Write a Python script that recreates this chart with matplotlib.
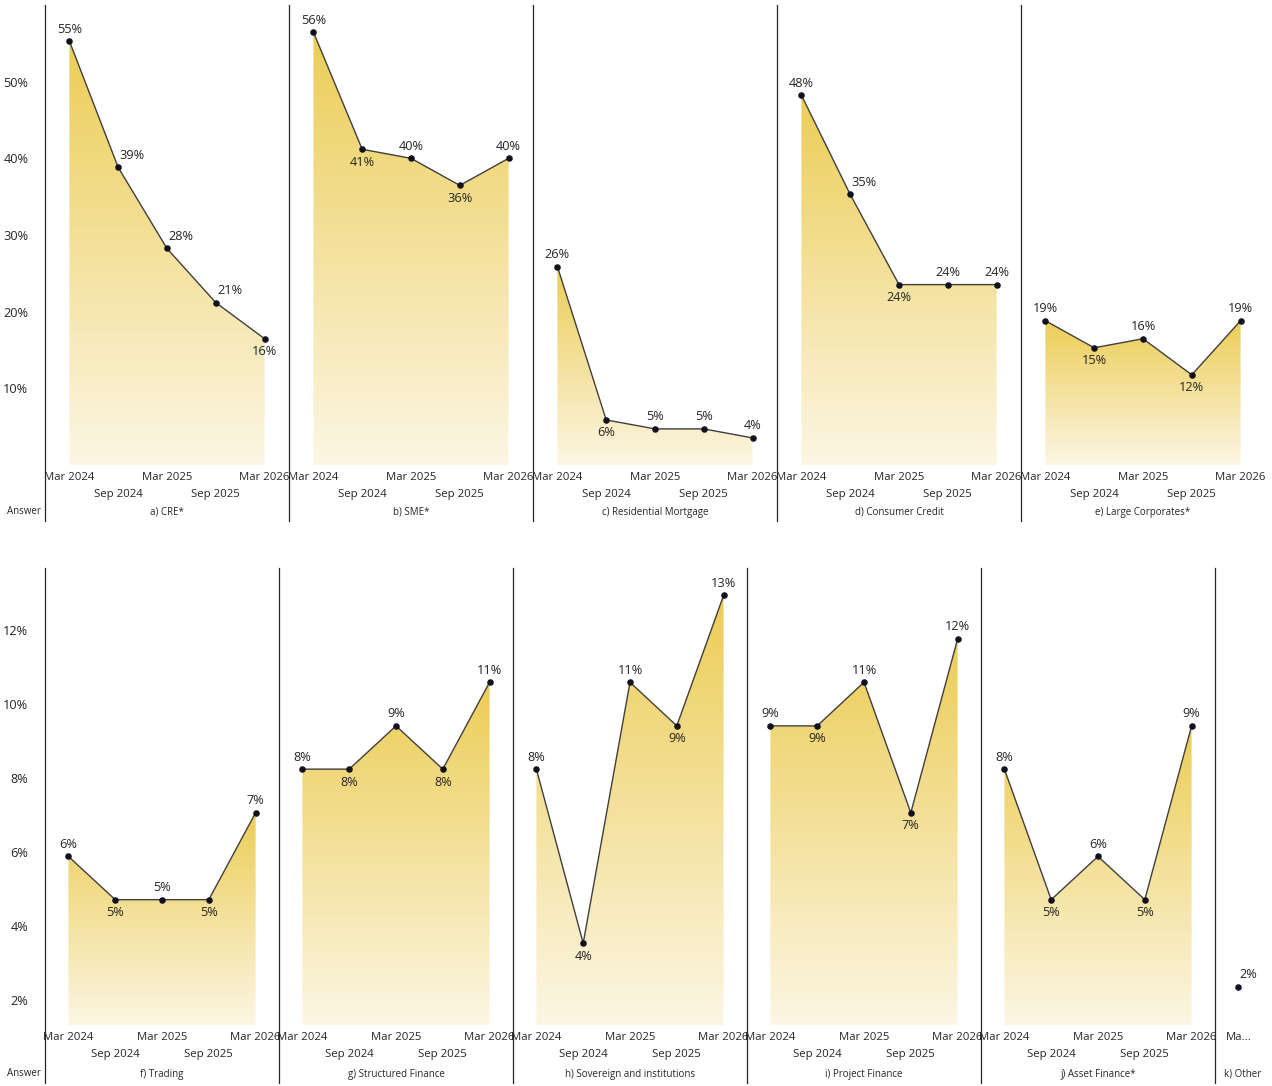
import matplotlib
matplotlib.use("Agg")
import matplotlib.pyplot as plt
import numpy as np
from matplotlib.lines import Line2D
from matplotlib.ticker import FixedLocator

plt.rcParams['font.family'] = ['Open Sans', 'DejaVu Sans']

# Survey periods
periods = ["Mar 2024", "Sep 2024", "Mar 2025", "Sep 2025", "Mar 2026"]

# Share of answers (%) per category, top row
cre = [55.29, 38.82, 28.24, 21.18, 16.47]
sme = [56.47, 41.18, 40.00, 36.47, 40.00]
residential_mortgage = [25.88, 5.88, 4.71, 4.71, 3.53]
consumer_credit = [48.24, 35.29, 23.53, 23.53, 23.53]
large_corporates = [18.82, 15.29, 16.47, 11.76, 18.82]

# Share of answers (%) per category, bottom row
trading = [5.88, 4.71, 4.71, 4.71, 7.06]
structured_finance = [8.24, 8.24, 9.41, 8.24, 10.59]
sovereign = [8.24, 3.53, 10.59, 9.41, 12.94]
project_finance = [9.41, 9.41, 10.59, 7.06, 11.76]
asset_finance = [8.24, 4.71, 5.88, 4.71, 9.41]
other = [2.35]
other_periods = ["Ma..."]

top_titles = ["a) CRE*", "b) SME*", "c) Residential Mortgage",
              "d) Consumer Credit", "e) Large Corporates*"]
bottom_titles = ["f) Trading", "g) Structured Finance",
                 "h) Sovereign and institutions", "i) Project Finance",
                 "j) Asset Finance*", "k) Other"]

top_series = [cre, sme, residential_mortgage, consumer_credit, large_corporates]
bottom_series = [trading, structured_finance, sovereign, project_finance,
                 asset_finance, other]

# Label placement: a = above, b = below, r = above-right
A, B, R = (0, 12), (0, -13), (14, 12)
top_places = [
    [A, R, R, R, B],
    [A, B, A, B, A],
    [A, B, A, A, A],
    [A, R, B, A, A],
    [A, B, A, B, A],
]
bottom_places = [
    [A, B, A, B, A],
    [A, B, A, B, A],
    [A, B, A, B, A],
    [A, B, A, B, A],
    [A, B, A, B, A],
    [(10, 12)],
]

W, H = 1272, 1086
fig = plt.figure(figsize=(W / 100, H / 100), dpi=100)

top_col = np.array([236, 205, 86]) / 255
bot_col = np.array([252, 246, 228]) / 255
grad = np.linspace(0, 1, 256)[:, None, None]
grad_img = bot_col[None, None, :] * (1 - grad) + top_col[None, None, :] * grad

LINE = "#3f3f3f"
DOT = "#10101e"
TXT = "#262626"
FS = 9.2
TICK_FS = 8.2
TITLE_FS = 7.0


def px_axes(x0, y_top, w, y_bot):
    return fig.add_axes([x0 / W, 1 - y_bot / H, w / W, (y_bot - y_top) / H])


def draw_panel(ax, vals, labels, places, ylim, yticks, show_y):
    n = len(vals)
    x = np.arange(n)
    ax.set_xlim(-0.5, n - 0.5)
    ax.set_ylim(*ylim)
    if n > 1:
        poly = ax.fill_between(x, ylim[0], vals, color="none", lw=0)
        im = ax.imshow(grad_img, origin="lower", aspect="auto",
                       extent=(0, n - 1, ylim[0], max(vals)), zorder=1,
                       interpolation="bilinear")
        im.set_clip_path(poly.get_paths()[0], transform=ax.transData)
        ax.plot(x, vals, color=LINE, lw=1.0, zorder=2)
    ax.plot(x, vals, "o", color=DOT, ms=3.7, zorder=3)
    for xi, v, off in zip(x, vals, places):
        ax.annotate(f"{round(v):.0f}%", (xi, v), xytext=off,
                    textcoords="offset pixels", ha="center", va="center",
                    fontsize=FS, color=TXT, zorder=4)
    ax.set_xticks(x)
    ax.set_xticklabels([lab if i % 2 == 0 else "\n" + lab
                        for i, lab in enumerate(labels)],
                       fontsize=TICK_FS, color=TXT, linespacing=1.75)
    ax.tick_params(axis="x", length=0, pad=5)
    ax.yaxis.set_major_locator(FixedLocator(yticks))
    if show_y:
        ax.set_yticklabels([f"{t:g}%" for t in yticks], fontsize=FS, color=TXT)
        ax.tick_params(axis="y", length=0, pad=12)
    else:
        ax.set_yticklabels([])
        ax.tick_params(axis="y", length=0)
    for s in ax.spines.values():
        s.set_visible(False)
    ax.patch.set_alpha(0)


# Top row
top_w = 244
for i, (vals, title, pl) in enumerate(zip(top_series, top_titles, top_places)):
    x0 = 45 + i * top_w
    ax = px_axes(x0, 5, top_w, 465)
    draw_panel(ax, vals, periods, pl, (0, 60), [10, 20, 30, 40, 50], i == 0)
    fig.text((x0 + top_w / 2) / W, 1 - 512 / H, title, ha="center",
             va="center", fontsize=TITLE_FS, color=TXT)
    fig.add_artist(Line2D([x0 / W, x0 / W], [1 - 5 / H, 1 - 521 / H],
                          color="#262626", lw=0.9))

# Bottom row
bot_w = 234
band = bot_w / 5
for i, (vals, title, pl) in enumerate(zip(bottom_series, bottom_titles,
                                          bottom_places)):
    x0 = 45 + i * bot_w
    w = bot_w if len(vals) > 1 else band
    labels = periods if len(vals) > 1 else other_periods
    ax = px_axes(x0, 568, w, 1025)
    draw_panel(ax, vals, labels, pl, (1.32, 13.68), [2, 4, 6, 8, 10, 12], i == 0)
    tx = x0 + bot_w / 2 if len(vals) > 1 else x0 + 28
    fig.text(tx / W, 1 - 1074 / H, title, ha="center", va="center",
             fontsize=TITLE_FS, color=TXT)
    fig.add_artist(Line2D([x0 / W, x0 / W], [1 - 568 / H, 1 - 1083 / H],
                          color="#262626", lw=0.9))

fig.text(24 / W, 1 - 512 / H, "Answer", ha="center", va="center",
         fontsize=TITLE_FS, color=TXT)
fig.text(24 / W, 1 - 1074 / H, "Answer", ha="center", va="center",
         fontsize=TITLE_FS, color=TXT)

fig.savefig("out.png", dpi=100, facecolor="white")
